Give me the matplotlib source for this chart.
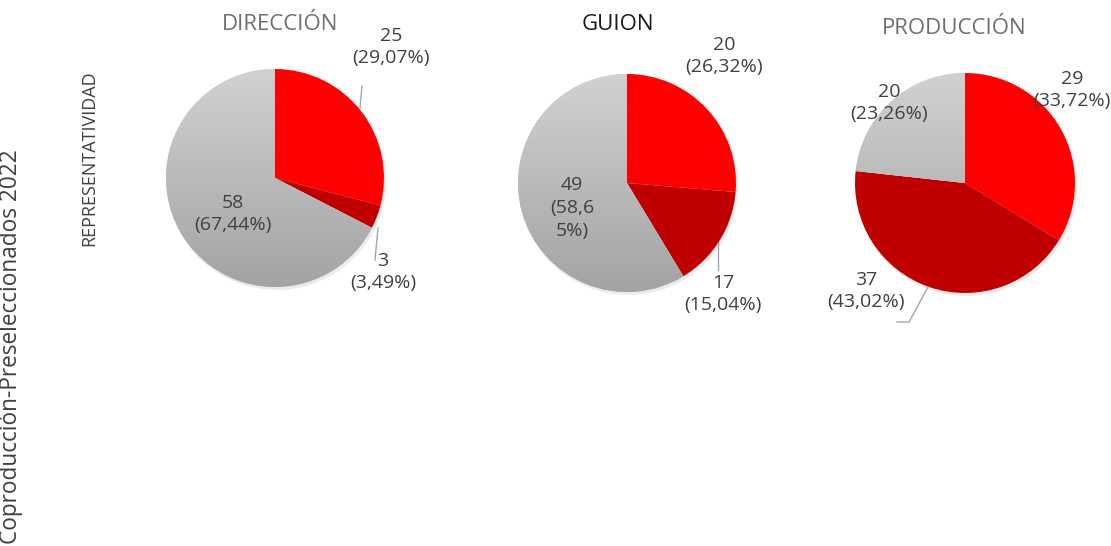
import matplotlib
matplotlib.use("Agg")
import matplotlib.pyplot as plt
import numpy as np

plt.rcParams['font.family'] = ['Open Sans', 'DejaVu Sans']

titles = ["DIRECCIÓN", "GUION", "PRODUCCIÓN"]
title_colors = ["#6f6f6f", "#1a1a1a", "#6f6f6f"]
categories = ["Rojo", "Rojo oscuro", "Gris"]
counts = [[25, 3, 58], [20, 17, 49], [29, 37, 20]]
percents = [[29.07, 3.49, 67.44], [26.32, 15.04, 58.65], [33.72, 43.02, 23.26]]
label_texts = [
    ["25\n(29,07%)", "3\n(3,49%)", "58\n(67,44%)"],
    ["20\n(26,32%)", "17\n(15,04%)", "49\n(58,6\n5%)"],
    ["29\n(33,72%)", "37\n(43,02%)", "20\n(23,26%)"],
]
colors = ["#FF0000", "#C00000", "#C8C8C8"]

W, H = 1111, 546
fig = plt.figure(figsize=(W / 100, H / 100), dpi=100)
ax = fig.add_axes([0, 0, 1, 1])
ax.set_xlim(0, W)
ax.set_ylim(0, H)
ax.set_aspect('equal')
ax.axis('off')

def Y(py):
    return H - py

centers = [(275, 178), (627, 183), (965, 183)]
radii = [109, 109, 110]
title_pos = [(280, 25), (618, 25), (954, 28)]
label_pos = [
    [(391, 47), (383, 272), (233, 214)],
    [(724, 56), (723, 294), (572, 208)],
    [(1072, 90), (866, 291), (889, 103)],
]
leaders = [
    [[(362, 86), (360, 108)], [(378, 228), (375, 260)], None],
    [None, [(718, 243), (718, 270)], None],
    [None, [(928, 287), (909, 322), (897, 322)], None],
]

grad = np.linspace(0, 1, 256).reshape(-1, 1)
top = np.array([0.82, 0.82, 0.82])
bot = np.array([0.64, 0.64, 0.64])
img = top[None, None, :] * (1 - grad[:, :, None]) + bot[None, None, :] * grad[:, :, None]

for i in range(3):
    cx, cy = centers[i]
    r = radii[i]
    shadow = plt.Circle((cx + 1.5, Y(cy) - 2.5), r + 0.5, color='black', alpha=0.08, lw=0, zorder=1)
    ax.add_patch(shadow)
    wedges, _ = ax.pie(percents[i], colors=colors, startangle=90, counterclock=False,
                       center=(cx, Y(cy)), radius=r, frame=False,
                       wedgeprops=dict(linewidth=0, edgecolor='none'))
    for w in wedges:
        w.set_zorder(2)
    gw = wedges[2]
    im = ax.imshow(img, extent=[cx - r, cx + r, Y(cy) - r, Y(cy) + r], origin='upper',
                   zorder=2.5, aspect='auto')
    im.set_clip_path(gw)
    tx, ty = title_pos[i]
    ax.text(tx, Y(ty), titles[i], ha='center', va='center', fontsize=16,
            color=title_colors[i], zorder=5)
    for j in range(3):
        lx, ly = label_pos[i][j]
        ax.text(lx, Y(ly), label_texts[i][j], ha='center', va='center', fontsize=14,
                color='#404040', linespacing=1.35, zorder=5)
        if leaders[i][j] is not None:
            pts = leaders[i][j]
            ax.plot([p[0] for p in pts], [Y(p[1]) for p in pts], color='#a6a6a6', lw=1, zorder=4)

ax.set_xlim(0, W)
ax.set_ylim(0, H)

fig.text(11 / W, 1 - 347 / H, "Coproducción-Preseleccionados 2022", rotation=90,
         ha='center', va='center', fontsize=16.3, color='#404040')
fig.text(89 / W, 1 - 158 / H, "REPRESENTATIVIDAD", rotation=90,
         ha='center', va='center', fontsize=13, color='#404040')

fig.savefig("out.png", dpi=100)
